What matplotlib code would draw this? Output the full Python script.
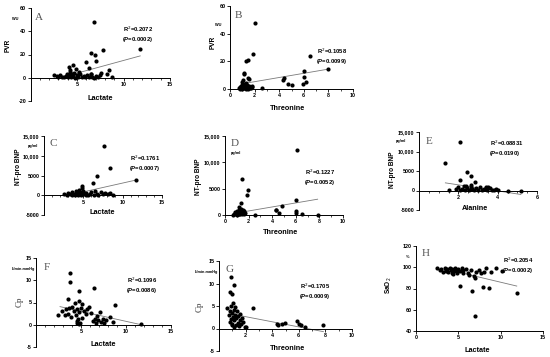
import matplotlib
matplotlib.use("Agg")
import matplotlib.pyplot as plt
from matplotlib.ticker import MultipleLocator, FixedLocator, NullLocator

W, H = 550, 357

# ---- A: lactate vs PVR
lac_a = [6.8, 11.8, 7.8, 6.5, 6.9, 7.0, 6.0, 4.6, 4.1, 4.3, 4.9, 6.3, 8.4, 7.6, 6.5, 8.2, 8.8,
         2.5, 2.8, 3.0, 3.2, 3.4, 3.6, 3.8, 4.0, 4.2, 4.4, 4.5, 4.6, 4.8, 5.0, 5.1, 5.3, 5.5,
         5.7, 5.9, 6.1, 6.3, 6.6, 6.8, 7.0, 7.3, 7.5, 4.3, 4.7, 5.2, 3.9, 6.5]
pvr_a = [48, 24.6, 24, 21, 19.7, 14.5, 13.3, 11, 9.6, 7, 7.5, 8, 6.7, 4.3, 3.2, 3.2, 0.6,
         2.5, 1.5, 0.5, 2.0, 1.0, 0.3, 1.8, 0.8, 2.5, 0.4, 3.5, 1.2, 0.2, 2.0, 0.8, 3.0, 0.5,
         1.5, 0.3, 2.2, 0.6, 1.0, 0.2, 1.8, 0.5, 2.5, 5.0, 4.5, 4.8, 3.0, 3.5]
fit_a_x = [4.8, 11.8]
fit_a_y = [3.5, 18.8]

# ---- B: threonine vs PVR
thr_b = [2.05, 1.84, 1.43, 1.3, 6.5, 7.95, 6.0, 6.0, 6.2, 5.95, 4.38, 4.3, 4.75, 5.0, 2.6,
         1.16, 1.16, 1.08, 1.43, 1.57,
         0.7, 0.8, 0.85, 0.9, 0.95, 1.0, 1.0, 1.05, 1.1, 1.15, 1.2, 1.2, 1.25, 1.3, 1.35,
         1.4, 1.45, 1.5, 1.55, 1.6, 1.7, 1.75, 1.8, 1.3, 1.0]
pvr_b = [48, 25, 21, 20, 24, 14.5, 13, 8.7, 4.8, 3.4, 7.7, 6.8, 3.9, 3.1, 0.7,
         11.6, 10.6, 6.3, 8, 7.3,
         0.5, 1.5, 0.3, 2.5, 1.0, 0.2, 3.0, 1.8, 0.6, 2.2, 0.4, 3.5, 1.2, 0.2, 2.8,
         0.8, 1.8, 0.3, 2.5, 1.0, 0.5, 2.0, 1.2, 4.5, 5.0]
fit_b_x = [1.08, 7.95]
fit_b_y = [3.9, 14.3]

# ---- C: lactate vs NT-pro BNP
lac_c = [7.6, 8.4, 11.7, 6.7, 6.2, 4.85, 4.85, 8.8,
         2.6, 2.9, 3.1, 3.3, 3.5, 3.6, 3.8, 4.0, 4.1, 4.2, 4.4, 4.5, 4.6, 4.7, 4.9, 5.0,
         5.2, 5.4, 5.6, 5.8, 6.0, 6.3, 6.5, 6.7, 6.9, 7.2, 7.5, 7.8, 8.1, 8.4, 5.3, 4.3]
bnp_c = [12400, 6950, 3850, 4850, 3000, 2400, 1900, 0,
         300, 100, 600, 200, 50, 800, 300, 100, 1000, 500, 200, 1300, 700, 100, 400, 1100,
         200, 600, 100, 300, 800, 150, 1200, 400, 100, 900, 300, 600, 200, 500, 50, 50]
fit_c_x = [4.6, 11.7]
fit_c_y = [670, 3850]

# ---- D: threonine vs NT-pro BNP
thr_d = [6.1, 1.44, 1.98, 1.84, 1.33, 6.0, 4.3, 4.35, 4.85, 4.6, 6.0, 6.05, 6.5, 7.85, 2.55,
         0.7, 0.8, 0.9, 0.95, 1.0, 1.05, 1.1, 1.15, 1.2, 1.25, 1.3, 1.35, 1.4, 1.45, 1.5,
         1.55, 1.6, 1.65, 1.7, 1.2, 1.0, 0.85]
bnp_d = [12400, 6900, 4800, 3800, 2350, 2900, 1000, 900, 1650, 320, 800, 440, 130, 60, 60,
         50, 200, 100, 400, 50, 700, 250, 100, 900, 400, 150, 1200, 600, 200, 1000,
         400, 100, 700, 300, 1500, 300, 600]
fit_d_x = [1.3, 7.85]
fit_d_y = [500, 3000]

# ---- E: alanine vs NT-pro BNP
ala_e = [2.1, 1.34, 2.44, 2.62, 2.06, 2.83, 2.62, 1.54, 3.43, 4.55, 5.18,
         1.9, 2.0, 2.1, 2.2, 2.3, 2.35, 2.45, 2.55, 2.65, 2.7, 2.8, 2.9, 3.0, 3.1, 3.2,
         3.3, 3.45, 3.6, 3.7, 3.8, 3.9, 4.0, 2.4, 3.5]
bnp_e = [12450, 7070, 4770, 3840, 2800, 2300, 1530, 100, 770, 0, 0,
         300, 800, 100, 500, 1100, 200, 600, 50, 900, 300, 100, 600, 200, 900, 100,
         400, 150, 600, 200, 50, 400, 100, 1200, 1000]
fit_e_x = [1.34, 5.18]
fit_e_y = [1960, -1020]

# ---- F: lactate vs Cp
lac_f = [3.78, 3.8, 6.48, 4.78, 8.8, 3.56, 4.78, 4.33, 5.1, 7.1, 2.48, 2.85, 3.2, 8.2, 8.6, 11.7,
         3.3, 3.5, 3.7, 3.9, 4.0, 4.2, 4.4, 4.5, 4.6, 4.7, 4.8, 4.9, 5.0, 5.1, 5.3, 5.5,
         5.7, 5.9, 6.1, 6.3, 6.5, 6.7, 6.9, 7.2, 7.4, 7.6, 7.8, 6.8, 4.6, 4.8]
cp_f = [11.7, 9.65, 8.3, 7.6, 4.5, 5.8, 5.35, 4.9, 4.6, 2.9, 2.1, 3.2, 2.1, 1.65, 0.7, 0.15,
        3.5, 2.5, 3.8, 1.8, 4.0, 3.0, 2.2, 0.5, 3.6, 1.2, 2.8, 0.3, 3.8, 1.5, 3.0, 2.4,
        3.5, 4.0, 2.6, 0.8, 1.3, 0.4, 1.1, 0.6, 1.4, 0.3, 1.0, 1.9, 0.8, 0.1]
fit_f_x = [2.67, 11.7]
fit_f_y = [4.07, 0.0]

# ---- G: threonine vs Cp
thr_g = [0.87, 1.15, 0.82, 0.95, 2.58, 0.62, 1.07, 1.95, 2.05, 4.33, 4.4, 4.7, 4.95,
         5.88, 6.0, 6.2, 6.47, 7.85,
         0.75, 0.8, 0.85, 0.9, 0.95, 1.0, 1.0, 1.05, 1.1, 1.1, 1.15, 1.2, 1.25, 1.3, 1.35,
         1.4, 1.45, 1.5, 1.55, 1.6, 1.65, 1.7, 1.8, 0.9, 1.2]
cp_g = [11.4, 9.6, 8.2, 7.6, 4.45, 4.6, 5.6, 0.3, 0.25, 0.9, 0.7, 1.1, 1.2,
        1.63, 1.1, 0.7, 0.3, 0.67,
        3.0, 1.5, 4.0, 2.2, 0.8, 3.5, 1.0, 2.6, 4.2, 0.4, 1.8, 3.0, 0.7, 2.4, 3.8,
        1.2, 2.8, 0.5, 2.0, 3.2, 1.0, 2.4, 1.5, 5.0, 4.8]
fit_g_x = [1.0, 7.85]
fit_g_y = [3.2, -0.7]

# ---- H: lactate vs SaO2
lac_h = [6.98, 11.9, 6.6, 5.14, 7.9, 8.6, 7.02, 10.1, 9.4,
         2.5, 2.8, 3.0, 3.2, 3.4, 3.5, 3.7, 3.8, 4.0, 4.1, 4.3, 4.4, 4.5, 4.6, 4.8, 4.9,
         5.0, 5.2, 5.4, 5.6, 5.9, 6.1, 6.3, 6.5, 6.8, 7.1, 7.4, 7.7, 8.0, 8.3, 8.9, 3.6, 4.2, 5.5]
sao_h = [54.4, 76, 77.3, 82, 81.5, 80.5, 90, 96.4, 99,
         99, 97, 98.5, 96, 99.5, 97.5, 98, 95.5, 99, 97, 98.5, 93.5, 96.5, 99, 97.5, 95,
         98.5, 96.5, 99, 97, 98.5, 95, 93, 97, 92, 95.5, 97, 95, 96, 99, 96, 96.5, 95, 94.5]
fit_h_x = [6.0, 11.9]
fit_h_y = [93.5, 82.3]

bnp_ticks = [-5000, 0, 5000, 10000, 15000]
bnp_labels = ["-5000", "0", "5000", "10,000", "15,000"]

fig = plt.figure(figsize=(W / 100, H / 100), dpi=100)
plt.rcParams['font.family'] = ['Liberation Sans', 'DejaVu Sans']


def px(x, y):
    return x / W, 1 - y / H


def panel(box, x, y, fitx, fity, xlim, ylim, xticks, yticks, ylabels, xminor,
          letter, letter_xy, ylab, ylab_xy, xlab, xlab_xy, unit, unit_xy, r2, r2_xy,
          pval, serif_ylab=False):
    x0, x1, yt, yb = box
    ax = fig.add_axes([x0 / W, 1 - yb / H, (x1 - x0) / W, (yb - yt) / H])
    ax.scatter(x, y, s=9, color='black', zorder=3, clip_on=False, linewidths=0)
    ax.plot(fitx, fity, color='#7a7a7a', lw=0.6, zorder=2)
    ax.set_xlim(*xlim)
    ax.set_ylim(*ylim)
    for s in ['top', 'right']:
        ax.spines[s].set_visible(False)
    ax.spines['bottom'].set_position(('data', max(0, ylim[0])))
    for s in ['left', 'bottom']:
        ax.spines[s].set_linewidth(0.7)
    ax.xaxis.set_major_locator(FixedLocator(xticks))
    ax.set_xticklabels([f"{t:g}" for t in xticks])
    if xminor:
        ax.xaxis.set_minor_locator(MultipleLocator(xminor))
    else:
        ax.xaxis.set_minor_locator(NullLocator())
    ax.set_yticks(yticks)
    ax.set_yticklabels(ylabels)
    ax.tick_params(which='major', length=2.2, width=0.6, labelsize=3.9, pad=1)
    ax.tick_params(which='minor', length=1.3, width=0.5)
    for t in ax.get_xticklabels() + ax.get_yticklabels():
        t.set_fontweight('bold')
    fig.text(*px(*letter_xy), letter, family='Liberation Serif', fontsize=8,
             color='#555555', ha='center', va='center')
    if serif_ylab:
        fig.text(*px(*ylab_xy), ylab, family='Liberation Serif', fontsize=6.5,
                 color='#333333', rotation=90, ha='center', va='center')
    else:
        fig.text(*px(*ylab_xy), ylab, fontsize=4.7, fontweight='bold',
                 rotation=90, ha='center', va='center')
    fig.text(*px(*xlab_xy), xlab, fontsize=5.2, fontweight='bold', ha='center', va='center')
    fig.text(*px(*unit_xy), unit, fontsize=2.8, fontweight='bold', ha='center', va='center')
    fig.text(*px(*r2_xy), r2, fontsize=4.2, fontweight='bold', ha='left', va='center')
    fig.text(*px(r2_xy[0] - 1, r2_xy[1] + 10.5), "($\\mathbfit{P}$=" + pval + ")",
             fontsize=4.2, fontweight='bold', ha='left', va='center')
    return ax


plt.rcParams['mathtext.fontset'] = 'custom'
plt.rcParams['mathtext.bfit'] = 'Liberation Sans:italic:bold'

panel((30.5, 170, 8, 101), lac_a, pvr_a, fit_a_x, fit_a_y, (0, 15), (-20, 60),
      [5, 10, 15], [-20, 0, 20, 40, 60], ["-20", "0", "20", "40", "60"], 1,
      "A", (39, 17), "PVR", (8, 45), "Lactate", (100, 99), "WU", (15, 19),
      "R$^2$=0.2072", (123, 29), "0.0002")

panel((230, 353, 6, 89), thr_b, pvr_b, fit_b_x, fit_b_y, (0, 10), (0, 60),
      [0, 2, 4, 6, 8, 10], [0, 20, 40, 60], ["0", "20", "40", "60"], 1,
      "B", (238, 16), "PVR", (213, 42), "Threonine", (287, 108), "WU", (218, 25),
      "R$^2$=0.1058", (317, 51), "0.0099")

panel((44, 162, 136, 215), lac_c, bnp_c, fit_c_x, fit_c_y, (0, 15), (-5000, 15000),
      [5, 10, 15], bnp_ticks, bnp_labels, 1,
      "C", (53, 143), "NT-pro BNP", (18, 167), "Lactate", (102, 212), "pg/ml", (33, 146),
      "R$^2$=0.1761", (130, 158), "0.0007")

panel((225, 343, 136, 215), thr_d, bnp_d, fit_d_x, fit_d_y, (0, 10), (0, 15000),
      [0, 2, 4, 6, 8, 10], bnp_ticks[1:], bnp_labels[1:], 1,
      "D", (235, 143), "NT-pro BNP", (198, 177), "Threonine", (280, 233), "pg/ml", (236, 153),
      "R$^2$=0.1227", (305, 172), "0.0052")

panel((419, 537, 132, 210), ala_e, bnp_e, fit_e_x, fit_e_y, (0, 6), (-5000, 15000),
      [2, 4, 6], bnp_ticks, bnp_labels, 0.5,
      "E", (429, 142), "NT-pro BNP", (392, 170), "Alanine", (475, 208), "pg/ml", (401, 141),
      "R$^2$=0.08831", (490, 143), "0.0190")

panel((36, 171, 258, 347), lac_f, cp_f, fit_f_x, fit_f_y, (0, 15), (-5, 15),
      [5, 10, 15], [-5, 0, 5, 10, 15], ["-5", "0", "5", "10", "15"], 1,
      "F", (47, 267), "Cp", (20, 302), "Lactate", (103, 344), "L/min.mmHg", (23, 269),
      "R$^2$=0.1096", (127, 280), "0.0086", serif_ylab=True)

panel((219, 352, 261, 351), thr_g, cp_g, fit_g_x, fit_g_y, (0, 10), (-5, 15),
      [2, 4, 6, 8, 10], [-5, 0, 5, 10, 15], ["-5", "0", "5", "10", "15"], 1,
      "G", (229, 269), "Cp", (200, 307), "Threonine", (287, 348), "L/min.mmHg", (206, 272),
      "R$^2$=0.1705", (300, 286), "0.0009", serif_ylab=True)

panel((416, 543, 246, 331), lac_h, sao_h, fit_h_x, fit_h_y, (0, 15), (40, 120),
      [0, 5, 10, 15], [40, 60, 80, 100, 120], ["40", "60", "80", "100", "120"], None,
      "H", (426, 253), "SaO$_2$", (389, 285), "Lactate", (477, 350), "%", (408, 257),
      "R$^2$=0.2054", (503, 260), "0.0002")

fig.savefig("out.png", dpi=100)
